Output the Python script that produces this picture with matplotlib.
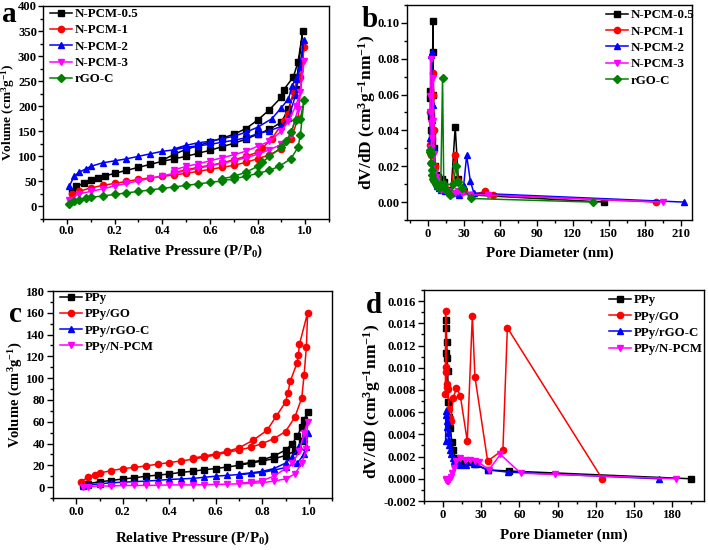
import numpy as np
import matplotlib
matplotlib.use("Agg")
import matplotlib.pyplot as plt
from matplotlib.ticker import MultipleLocator, FormatStrFormatter

plt.rcParams['font.family'] = ['Liberation Serif', 'DejaVu Serif']
plt.rcParams['font.weight'] = 'bold'
plt.rcParams['mathtext.fontset'] = 'custom'
plt.rcParams['mathtext.rm'] = 'Liberation Serif:bold'
plt.rcParams['mathtext.bf'] = 'Liberation Serif:bold'
plt.rcParams['mathtext.it'] = 'Liberation Serif:bold:italic'
plt.rcParams['mathtext.default'] = 'bf'

# ---------------- Panel a: N2 isotherms ----------------
a_labels = ["N-PCM-0.5", "N-PCM-1", "N-PCM-2", "N-PCM-3", "rGO-C"]
# N-PCM-0.5
a05_ads_p = [0.02, 0.04, 0.07, 0.10, 0.13, 0.16, 0.20, 0.25, 0.30, 0.35, 0.40, 0.45, 0.50, 0.55, 0.60, 0.65, 0.70, 0.75, 0.80, 0.85, 0.90, 0.93, 0.96, 0.99]
a05_ads_v = [30, 40, 46, 52, 57, 61, 66, 72, 78, 84, 90, 95, 100, 106, 112, 119, 126, 134, 144, 154, 168, 195, 235, 350]
a05_des_p = [0.97, 0.95, 0.91, 0.90, 0.85, 0.80, 0.75, 0.70, 0.65, 0.60, 0.55, 0.50, 0.45, 0.40]
a05_des_v = [288, 258, 233, 218, 193, 172, 155, 144, 136, 129, 121, 114, 104, 92]
# N-PCM-1
a1_ads_p = [0.02, 0.05, 0.10, 0.15, 0.20, 0.25, 0.30, 0.35, 0.40, 0.45, 0.50, 0.55, 0.60, 0.65, 0.70, 0.75, 0.80, 0.85, 0.90, 0.94, 0.97, 0.995]
a1_ads_v = [25, 30, 37, 42, 46, 50, 54, 57, 60, 63, 66, 70, 74, 78, 82, 88, 95, 103, 115, 135, 175, 318]
a1_des_p = [0.98, 0.97, 0.95, 0.93, 0.91, 0.86, 0.82, 0.80, 0.75, 0.70, 0.65, 0.60, 0.55, 0.50, 0.45]
a1_des_v = [258, 255, 230, 185, 170, 135, 117, 108, 100, 93, 87, 82, 78, 73, 68]
# N-PCM-2
a2_ads_p = [0.01, 0.03, 0.05, 0.08, 0.10, 0.15, 0.20, 0.25, 0.30, 0.35, 0.40, 0.45, 0.50, 0.55, 0.60, 0.65, 0.70, 0.75, 0.80, 0.85, 0.90, 0.93, 0.96, 0.995]
a2_ads_v = [40, 60, 68, 75, 80, 87, 91, 95, 100, 105, 110, 113, 118, 121, 124, 128, 132, 137, 145, 151, 160, 177, 222, 333]
a2_des_p = [0.98, 0.96, 0.945, 0.93, 0.90, 0.86, 0.80, 0.75, 0.70, 0.65, 0.60, 0.55, 0.50, 0.45]
a2_des_v = [278, 255, 240, 215, 197, 175, 158, 148, 140, 135, 130, 127, 122, 115]
# N-PCM-3
a3_ads_p = [0.01, 0.05, 0.10, 0.15, 0.20, 0.25, 0.30, 0.35, 0.40, 0.45, 0.50, 0.55, 0.60, 0.65, 0.70, 0.75, 0.80, 0.85, 0.90, 0.94, 0.97, 0.995]
a3_ads_v = [13, 25, 30, 35, 41, 46, 51, 56, 61, 66, 71, 76, 81, 86, 91, 97, 104, 113, 124, 143, 195, 290]
a3_des_p = [0.98, 0.96, 0.93, 0.90, 0.85, 0.80, 0.75, 0.70, 0.65, 0.60, 0.55, 0.50, 0.45]
a3_des_v = [228, 200, 170, 150, 130, 120, 110, 103, 97, 91, 85, 80, 73]
# rGO-C
ag_ads_p = [0.01, 0.03, 0.05, 0.08, 0.10, 0.15, 0.20, 0.25, 0.30, 0.35, 0.40, 0.45, 0.50, 0.55, 0.60, 0.65, 0.70, 0.75, 0.80, 0.85, 0.89, 0.94, 0.97, 0.98, 0.995]
ag_ads_v = [5, 10, 13, 16, 18, 21, 24, 27, 30, 33, 36, 39, 42, 45, 48, 51, 55, 60, 66, 72, 80, 95, 118, 143, 212]
ag_des_p = [0.98, 0.96, 0.94, 0.92, 0.90, 0.85, 0.82, 0.80, 0.75, 0.70, 0.65]
ag_des_v = [175, 173, 148, 130, 118, 100, 88, 80, 68, 60, 55]

# ---------------- Panel b: PSD ----------------
b05_d = [1.6, 1.9, 2.2, 2.5, 2.9, 3.3, 3.8, 4.1, 4.4, 5.0, 5.8, 6.8, 8.0, 9.5, 11.5, 13.5, 16, 19, 22.5, 25, 29, 36, 146]
b05_v = [0.058, 0.062, 0.048, 0.040, 0.034, 0.038, 0.084, 0.101, 0.060, 0.030, 0.020, 0.015, 0.014, 0.012, 0.013, 0.011, 0.007, 0.005, 0.042, 0.013, 0.006, 0.004, 0.0]
b1_d = [1.6, 2.0, 2.4, 2.8, 3.3, 3.8, 4.3, 5.0, 6.0, 7.0, 8.5, 10, 12, 14, 17, 19, 22.5, 25, 30, 36, 47.5, 54, 189]
b1_v = [0.050, 0.032, 0.026, 0.022, 0.036, 0.060, 0.072, 0.040, 0.020, 0.014, 0.011, 0.009, 0.010, 0.008, 0.006, 0.005, 0.026, 0.012, 0.006, 0.004, 0.006, 0.004, 0.0]
b2_d = [1.5, 1.8, 2.1, 2.5, 2.9, 3.4, 4.0, 4.6, 5.3, 6.2, 7.5, 9, 11, 14, 18, 22, 26, 29.5, 32, 35, 38, 212]
b2_v = [0.030, 0.036, 0.050, 0.082, 0.084, 0.046, 0.054, 0.030, 0.015, 0.011, 0.009, 0.008, 0.007, 0.006, 0.005, 0.005, 0.004, 0.009, 0.026, 0.012, 0.005, 0.0]
b3_d = [1.5, 1.8, 2.1, 2.4, 2.8, 3.2, 3.7, 4.2, 4.8, 5.5, 6.5, 7.5, 9, 11, 13, 16, 19, 22, 25, 28, 35, 50, 195]
b3_v = [0.050, 0.059, 0.080, 0.044, 0.030, 0.036, 0.045, 0.069, 0.027, 0.017, 0.014, 0.012, 0.009, 0.007, 0.007, 0.006, 0.005, 0.005, 0.006, 0.005, 0.004, 0.004, 0.0]
bg_d = [1.5, 1.8, 2.1, 2.5, 3.0, 3.5, 4.1, 4.8, 5.6, 6.6, 7.8, 9.2, 10.5, 12.0, 13, 15, 18.5, 21, 23, 25, 28, 36, 137]
bg_v = [0.028, 0.029, 0.027, 0.022, 0.018, 0.015, 0.013, 0.012, 0.011, 0.010, 0.009, 0.008, 0.009, 0.069, 0.010, 0.007, 0.004, 0.010, 0.020, 0.011, 0.008, 0.002, 0.0]

# ---------------- Panel c: PPy isotherms ----------------
c_labels = ["PPy", "PPy/GO", "PPy/rGO-C", "PPy/N-PCM"]
c0_ads_p = [0.03, 0.05, 0.10, 0.15, 0.20, 0.25, 0.30, 0.35, 0.40, 0.45, 0.50, 0.55, 0.60, 0.65, 0.70, 0.75, 0.80, 0.85, 0.90, 0.94, 0.97, 0.995]
c0_ads_v = [2, 3, 5, 6, 7.5, 8.5, 10, 11, 12, 13.5, 14.5, 16, 17, 18.5, 20, 22, 24, 26, 29, 33, 42, 69]
c0_des_p = [0.98, 0.97, 0.95, 0.93, 0.90, 0.85, 0.80, 0.75, 0.70]
c0_des_v = [62, 55, 47, 40, 34, 28.5, 25, 22.5, 21]
c1_ads_p = [0.02, 0.05, 0.08, 0.10, 0.15, 0.20, 0.25, 0.30, 0.35, 0.40, 0.45, 0.50, 0.55, 0.60, 0.65, 0.70, 0.75, 0.80, 0.85, 0.90, 0.94, 0.97, 0.98, 0.99, 0.995]
c1_ads_v = [5, 9, 11, 13, 15, 17, 18, 19.5, 21, 22.5, 24, 25.5, 27.5, 29.5, 32, 34, 36.5, 40, 44.5, 51, 64, 82, 103, 129, 160]
c1_des_p = [0.96, 0.955, 0.95, 0.92, 0.91, 0.90, 0.86, 0.82, 0.76, 0.70, 0.65, 0.60, 0.55, 0.50]
c1_des_v = [131, 121, 114, 97, 86, 78, 65, 52, 43, 36, 33, 30.5, 28.5, 26.5]
c2_ads_p = [0.03, 0.05, 0.10, 0.15, 0.20, 0.25, 0.30, 0.35, 0.40, 0.45, 0.50, 0.55, 0.60, 0.65, 0.70, 0.75, 0.80, 0.85, 0.90, 0.95, 0.98, 0.99, 0.995]
c2_ads_v = [1, 2, 3, 4, 4.5, 5, 5.5, 6.2, 7, 7.5, 8, 9, 10, 10.8, 11.5, 12.5, 13.5, 15.5, 18, 22, 30, 37, 50]
c2_des_p = [0.98, 0.96, 0.93, 0.90, 0.85, 0.80, 0.75, 0.70]
c2_des_v = [44, 38, 28, 22, 17, 14.5, 13, 12]
c3_ads_p = [0.03, 0.05, 0.10, 0.15, 0.20, 0.25, 0.30, 0.35, 0.40, 0.45, 0.50, 0.55, 0.60, 0.65, 0.70, 0.75, 0.80, 0.85, 0.90, 0.94, 0.97, 0.99, 0.995]
c3_ads_v = [0, 0.5, 1, 1, 1.5, 1.5, 1.5, 1.7, 2, 2, 2, 2.2, 2.5, 2.7, 3, 3.5, 4, 5.5, 7.5, 12, 22, 35, 60]
c3_des_p = [0.98, 0.96, 0.93, 0.90, 0.85, 0.80, 0.75, 0.70]
c3_des_v = [50, 33, 22, 17, 10, 6, 4.5, 3.5]

# ---------------- Panel d: PPy PSD ----------------
d0_d = [2.0, 2.2, 2.5, 2.8, 3.2, 3.6, 4.2, 5.0, 5.8, 6.8, 8.0, 9.5, 12, 16, 22, 26, 35, 52, 195]
d0_v = [0.0113, 0.0143, 0.0136, 0.0123, 0.0109, 0.0097, 0.0069, 0.0056, 0.0046, 0.0033, 0.0026, 0.0019, 0.0017, 0.0014, 0.0015, 0.0013, 0.0008, 0.0007, 0.0]
d1_d = [1.8, 2.0, 2.3, 2.6, 3.0, 3.4, 3.9, 4.5, 5.2, 6.0, 8.0, 10.5, 13.5, 19, 23, 25, 35, 47, 50.5, 125]
d1_v = [0.0076, 0.0151, 0.0101, 0.0096, 0.0085, 0.0083, 0.0081, 0.0063, 0.0055, 0.0052, 0.0073, 0.0082, 0.0075, 0.0034, 0.0147, 0.0092, 0.0016, 0.0026, 0.0136, 0.0]
d2_d = [2.0, 2.1, 2.4, 2.8, 3.2, 3.7, 4.3, 5.0, 5.8, 6.6, 7.5, 8.5, 10, 13, 18, 24, 35, 51, 170]
d2_v = [0.0034, 0.0061, 0.0057, 0.0052, 0.0047, 0.0041, 0.0035, 0.0030, 0.0026, 0.0022, 0.0019, 0.0016, 0.0014, 0.0012, 0.0012, 0.0013, 0.0008, 0.0006, 0.0]
d3_d = [2.0, 2.5, 3.0, 3.5, 4.2, 5.0, 6.0, 7.0, 8.5, 10, 13, 17, 21, 25, 28, 36, 45, 61, 88, 183]
d3_v = [0.0, -0.0001, -0.0002, -0.0002, -0.0002, -0.0001, 0.0002, 0.0005, 0.0010, 0.0016, 0.0019, 0.0017, 0.0017, 0.0016, 0.0015, 0.0008, 0.0022, 0.0005, 0.0004, 0.0]

colors5 = ['black', '#ff0000', '#0000ff', '#ff00ff', '#008000']
markers5 = ['s', 'o', '^', 'v', 'D']
msizes5 = [4, 4.5, 4.5, 4.5, 3.8]

fig = plt.figure(figsize=(7.08, 5.5), dpi=100)
axA = fig.add_axes([43/708, 1-219/550, 286/708, 213/550])
axB = fig.add_axes([407/708, 1-220/550, 285/708, 215/550])
axC = fig.add_axes([53/708, 1-498/550, 279/708, 207/550])
axD = fig.add_axes([424/708, 1-501/550, 280/708, 211/550])

TICK_FS = 9.1
XLAB_FS = 10.8
YLAB_VOL_FS = 10.5
YLAB_PSD_FS = 12.5
LEG_FS = 9.3

def style(ax, xmaj, xmin, ymaj, ymin, pad=1.5, tl=4):
    ax.xaxis.set_major_locator(MultipleLocator(xmaj))
    ax.xaxis.set_minor_locator(MultipleLocator(xmin))
    ax.yaxis.set_major_locator(MultipleLocator(ymaj))
    ax.yaxis.set_minor_locator(MultipleLocator(ymin))
    ax.tick_params(which='both', direction='out', top=False, right=False,
                   labelsize=TICK_FS, width=1.0, pad=pad)
    ax.tick_params(which='major', length=tl)
    ax.tick_params(which='minor', length=2.5)
    for s in ax.spines.values():
        s.set_linewidth(1.0)
    for lab in ax.get_xticklabels() + ax.get_yticklabels():
        lab.set_fontweight('bold')

def iso(ax, ads_p, ads_v, des_p, des_v, c, m, ms, label):
    p = list(ads_p) + list(des_p)
    v = list(ads_v) + list(des_v)
    ax.plot(p, v, color=c, marker=m, markersize=ms, linewidth=1.1, label=label)

def leg(ax, anchor):
    ax.legend(loc='upper left', bbox_to_anchor=anchor, frameon=False,
              handlelength=1.7, labelspacing=0.33, borderaxespad=0, borderpad=0,
              handletextpad=0.25, prop={'weight': 'bold', 'size': LEG_FS})

# Panel a
iso_a = [(a05_ads_p, a05_ads_v, a05_des_p, a05_des_v),
         (a1_ads_p, a1_ads_v, a1_des_p, a1_des_v),
         (a2_ads_p, a2_ads_v, a2_des_p, a2_des_v),
         (a3_ads_p, a3_ads_v, a3_des_p, a3_des_v),
         (ag_ads_p, ag_ads_v, ag_des_p, ag_des_v)]
for i, (ap, av, dp, dv) in enumerate(iso_a):
    iso(axA, ap, av, dp, dv, colors5[i], markers5[i], msizes5[i], a_labels[i])
axA.set_xlim(-0.1, 1.1)
axA.set_ylim(-25, 400)
style(axA, 0.2, 0.1, 50, 25, pad=0.8, tl=3.5)
axA.xaxis.set_major_formatter(FormatStrFormatter('%.1f'))
axA.set_xlabel('Relative Pressure (P/P$_0$)', fontsize=XLAB_FS, fontweight='bold')
axA.set_ylabel('Volume (cm$^3$g$^{-1}$)', fontsize=9.6, fontweight='bold')
axA.xaxis.set_label_coords(0.5, -0.11)
axA.yaxis.set_label_coords(-0.091, 0.5)
leg(axA, (0.024, 0.99))

# Panel b
psd_b = [(b05_d, b05_v), (b1_d, b1_v), (b2_d, b2_v), (b3_d, b3_v), (bg_d, bg_v)]
for i, (d, v) in enumerate(psd_b):
    axB.plot(d, v, color=colors5[i], marker=markers5[i], markersize=msizes5[i], linewidth=1.1, label=a_labels[i])
axB.set_xlim(-17.5, 219)
axB.set_ylim(-0.01, 0.11)
style(axB, 30, 15, 0.02, 0.01)
axB.yaxis.set_major_formatter(FormatStrFormatter('%.2f'))
axB.set_xlabel('Pore Diameter (nm)', fontsize=XLAB_FS, fontweight='bold')
axB.set_ylabel('dV/dD (cm$^3$g$^{-1}$nm$^{-1}$)', fontsize=YLAB_PSD_FS, fontweight='bold')
axB.xaxis.set_label_coords(0.5, -0.125)
axB.yaxis.set_label_coords(-0.102, 0.5)
leg(axB, (0.698, 0.98))

# Panel c
iso_c = [(c0_ads_p, c0_ads_v, c0_des_p, c0_des_v),
         (c1_ads_p, c1_ads_v, c1_des_p, c1_des_v),
         (c2_ads_p, c2_ads_v, c2_des_p, c2_des_v),
         (c3_ads_p, c3_ads_v, c3_des_p, c3_des_v)]
for i, (ap, av, dp, dv) in enumerate(iso_c):
    iso(axC, ap, av, dp, dv, colors5[i], markers5[i], msizes5[i], c_labels[i])
axC.set_xlim(-0.1, 1.1)
axC.set_ylim(-10, 180)
style(axC, 0.2, 0.1, 20, 10)
axC.xaxis.set_major_formatter(FormatStrFormatter('%.1f'))
axC.set_xlabel('Relative Pressure (P/P$_0$)', fontsize=XLAB_FS, fontweight='bold')
axC.set_ylabel('Volume (cm$^3$g$^{-1}$)', fontsize=YLAB_VOL_FS, fontweight='bold')
axC.xaxis.set_label_coords(0.5, -0.155)
axC.yaxis.set_label_coords(-0.102, 0.5)
leg(axC, (0.025, 0.995))

# Panel d
psd_d = [(d0_d, d0_v), (d1_d, d1_v), (d2_d, d2_v), (d3_d, d3_v)]
for i, (d, v) in enumerate(psd_d):
    axD.plot(d, v, color=colors5[i], marker=markers5[i], markersize=msizes5[i], linewidth=1.1, label=c_labels[i])
axD.set_xlim(-15, 205)
axD.set_ylim(-0.002, 0.017)
style(axD, 30, 15, 0.002, 0.001)
axD.yaxis.set_major_formatter(FormatStrFormatter('%.3f'))
axD.set_xlabel('Pore Diameter (nm)', fontsize=XLAB_FS, fontweight='bold')
axD.set_ylabel('dV/dD (cm$^3$g$^{-1}$nm$^{-1}$)', fontsize=YLAB_PSD_FS, fontweight='bold')
axD.xaxis.set_label_coords(0.5, -0.13)
axD.yaxis.set_label_coords(-0.148, 0.47)
leg(axD, (0.66, 0.98))

# panel letters
fig.text(2/708, 1-22/550, 'a', fontsize=21, fontweight='bold')
fig.text(362/708, 1-27/550, 'b', fontsize=21, fontweight='bold')
fig.text(9/708, 1-322/550, 'c', fontsize=21, fontweight='bold')
fig.text(366/708, 1-313/550, 'd', fontsize=21, fontweight='bold')

fig.savefig('out.png', dpi=100)
